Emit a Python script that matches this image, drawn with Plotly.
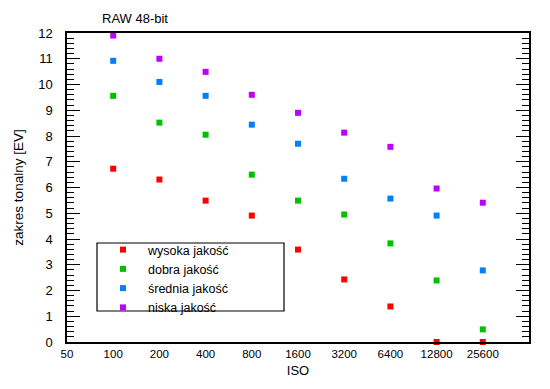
import plotly.graph_objects as go

iso = [100, 200, 400, 800, 1600, 3200, 6400, 12800, 25600]
wysoka = [6.73, 6.31, 5.49, 4.91, 3.59, 2.43, 1.38, 0.0, 0.0]
dobra = [9.56, 8.52, 8.05, 6.50, 5.49, 4.95, 3.83, 2.39, 0.49]
srednia = [10.92, 10.10, 9.56, 8.44, 7.70, 6.34, 5.57, 4.91, 2.78]
niska = [11.90, 11.00, 10.49, 9.60, 8.90, 8.13, 7.58, 5.96, 5.41]

series_names = ["wysoka jakość", "dobra jakość", "średnia jakość", "niska jakość"]
series_values = [wysoka, dobra, srednia, niska]
series_colors = ["#ff0000", "#00c000", "#0080ff", "#c000ff"]

x_tick_vals = [50, 100, 200, 400, 800, 1600, 3200, 6400, 12800, 25600]
x_tick_text = [str(v) for v in x_tick_vals]

FONT = "Liberation Sans, Arial, sans-serif"

# page has an 8px body margin; figure sized to fill the 550x389 window
OFF = 8
W, H = 550 - OFF, 389 - OFF
# plot area in page pixels: x 67..529, y 33..342
PL, PR, PT, PB = 67 - OFF, 529 - OFF, 33 - OFF, 342 - OFF
PW, PH = PR - PL, PB - PT

def px_x(x):
    return (x - OFF - PL) / PW

def px_y(y):
    return (PB - (y - OFF)) / PH

fig = go.Figure()
for name, vals, col in zip(series_names, series_values, series_colors):
    fig.add_trace(go.Scatter(
        x=iso, y=vals, mode="markers", name=name,
        marker=dict(symbol="square", size=6, color=col, line=dict(width=0)),
        cliponaxis=False,
    ))

fig.update_layout(
    template="none",
    width=W, height=H,
    margin=dict(l=PL, r=W - PR, t=PT, b=H - PB, pad=0),
    paper_bgcolor="white", plot_bgcolor="white",
    font=dict(family=FONT, size=12, color="black"),
    showlegend=True,
    legend=dict(
        x=px_x(98), y=px_y(235), xanchor="left", yanchor="top",
        bgcolor="rgba(0,0,0,0)", borderwidth=0,
        itemwidth=40, tracegroupgap=0,
        font=dict(family=FONT, size=12.5, color="black"),
    ),
    annotations=[
        dict(text="RAW 48-bit", x=px_x(135), y=px_y(18), xref="paper", yref="paper",
             xanchor="center", yanchor="middle",
             showarrow=False, font=dict(size=13, family=FONT)),
    ],
    shapes=[
        dict(type="rect", xref="paper", yref="paper",
             x0=px_x(97), x1=px_x(284), y0=px_y(311), y1=px_y(243),
             line=dict(color="black", width=1.2), fillcolor="rgba(0,0,0,0)"),
    ],
)

fig.update_xaxes(
    type="log", range=[1.69897, 4.70927], automargin=False,
    tickvals=x_tick_vals, ticktext=x_tick_text,
    ticks="", showgrid=False, zeroline=False,
    showline=True, linecolor="black", linewidth=1.5, mirror=True,
    tickfont=dict(size=11.5, family=FONT),
    title=dict(text="ISO", font=dict(size=13, family=FONT), standoff=7),
)
fig.update_yaxes(
    range=[0, 12], dtick=1, tick0=0, automargin=False,
    ticks="inside", ticklen=13, tickwidth=1.2, tickcolor="black",
    minor=dict(dtick=0.2, ticks="inside", ticklen=7, tickwidth=1, tickcolor="black", showgrid=False),
    showgrid=False, zeroline=False,
    showline=True, linecolor="black", linewidth=1.5, mirror="ticks",
    ticklabelstandoff=10,
    tickfont=dict(size=13, family=FONT),
    title=dict(text="zakres tonalny [EV]", font=dict(size=13.5, family=FONT), standoff=11),
)

fig.write_html("out.html")
